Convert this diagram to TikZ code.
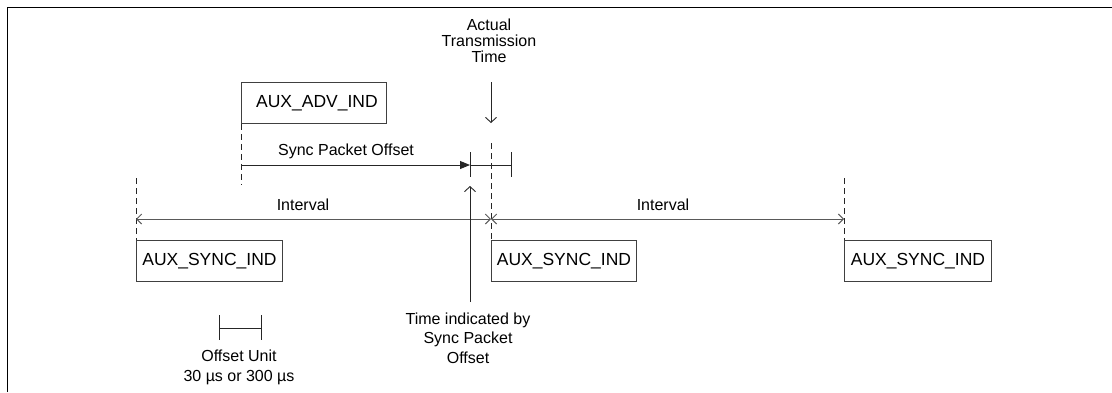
\documentclass[tikz,border=0pt]{standalone}
\usepackage{fontspec}
\setmainfont{Liberation Sans}
\usetikzlibrary{arrows.meta}
\begin{document}
\begin{tikzpicture}[x=1pt,y=-1pt,
  pkt/.style={draw=black!75,line width=0.9pt,minimum height=41pt,anchor=north west,inner sep=0pt,font=\fontsize{17.5}{20}\selectfont},
  lbl/.style={font=\fontsize{16}{19.5}\selectfont,align=center,inner sep=0pt},
  guide/.style={draw=black!85,line width=0.9pt,dash pattern=on 6pt off 4pt},
  span/.style={draw=black!65,line width=1pt,{Straight Barb[length=5pt,width=10pt]}-{Straight Barb[length=5pt,width=10pt]}},
  thin/.style={draw=black!85,line width=0.9pt},
  ptr/.style={thin,-{Straight Barb[length=5pt,width=11pt]}},
  tick/.style={thin}
]
\useasboundingbox (0,0) rectangle (1112,392);
% outer frame
\coordinate (fbl) at (7.5,392);
\coordinate (ftl) at (7.5,7.5);
\coordinate (ftr) at (1112,7.5);
\draw[line width=1.4pt] (fbl) -- (ftl) -- (ftr);

% packets
\node[pkt,minimum width=145pt] (adv) at (241,82) {\hspace*{6pt}AUX\_ADV\_IND};
\node[pkt,minimum width=146pt] (s1) at (136,240) {AUX\_SYNC\_IND};
\node[pkt,minimum width=145pt] (s2) at (491,240) {AUX\_SYNC\_IND};
\node[pkt,minimum width=147pt] (s3) at (844,240) {AUX\_SYNC\_IND};

% dashed guides
\coordinate (g1) at (136,178);
\coordinate (g2) at (241,185);
\coordinate (g3) at (491,143);
\coordinate (g4) at (844,178);
\draw[guide] (g1) -- (s1.north west);
\draw[guide] (adv.south west) -- (g2);
\draw[guide] (g3) -- (s2.north west);
\draw[guide] (g4) -- (s3.north west);

% intervals
\coordinate (i1) at (136,219);
\coordinate (i2) at (491,219);
\coordinate (i3) at (844,219);
\draw[span] (i1) -- (i2);
\draw[span] (i2) -- (i3);
\node[lbl] (il1) at (303,205) {Interval};
\node[lbl] (il2) at (663,205) {Interval};

% sync packet offset
\coordinate (o0) at (241,165);
\coordinate (o1) at (470,165);
\coordinate (o2) at (511,165);
\draw[thin,-{Triangle[length=10pt,width=8pt]}] (o0) -- (o1);
\draw[thin] (o1) -- (o2);
\coordinate (t1a) at (470,152); \coordinate (t1b) at (470,177);
\coordinate (t2a) at (511,152); \coordinate (t2b) at (511,177);
\draw[tick] (t1a) -- (t1b);
\draw[tick] (t2a) -- (t2b);
\node[lbl] (spo) at (346,151) {Sync Packet Offset};

% actual transmission time
\node[lbl,font=\fontsize{16}{16}\selectfont] (att) at (489,41) {Actual\\Transmission\\Time};
\coordinate (a0) at (491,82);
\coordinate (a1) at (491,123);
\draw[ptr] (a0) -- (a1);

% time indicated
\coordinate (u0) at (470,302);
\coordinate (u1) at (470,186);
\draw[ptr] (u0) -- (u1);
\node[lbl] (tis) at (468,338) {Time indicated by\\Sync Packet\\Offset};

% offset unit
\coordinate (ou0) at (219,328);
\coordinate (ou1) at (261,328);
\coordinate (ou0a) at (219,315); \coordinate (ou0b) at (219,340);
\coordinate (ou1a) at (261,315); \coordinate (ou1b) at (261,340);
\draw[thin] (ou0) -- (ou1);
\draw[tick] (ou0a) -- (ou0b);
\draw[tick] (ou1a) -- (ou1b);
\node[lbl,font=\fontsize{16}{20}\selectfont] (oul) at (239,367) {Offset Unit\\30 µs or 300 µs};
\end{tikzpicture}
\end{document}
